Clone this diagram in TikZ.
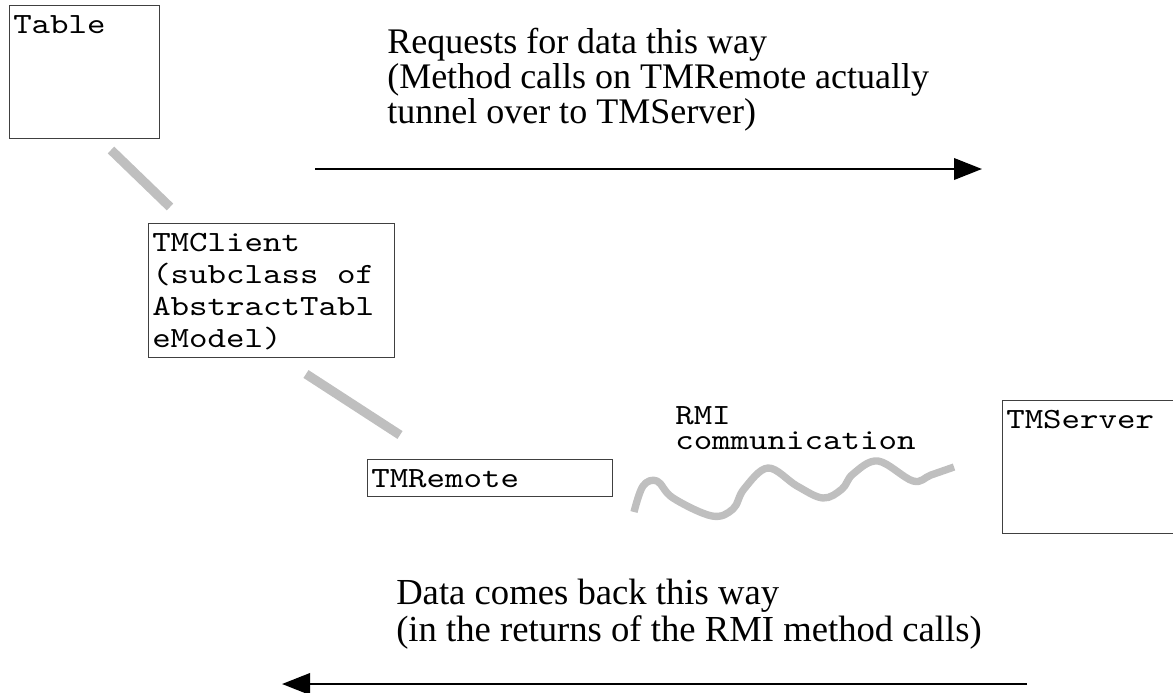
\documentclass[tikz,border=0pt]{standalone}
\usepackage{fontspec}
\setmainfont{Liberation Serif}
\newfontfamily\monofam{lmmono10-regular}[Extension=.otf,FakeStretch=1.2]
\usetikzlibrary{arrows.meta}

\newcommand{\px}{0.75pt}

\tikzset{
  box/.style={draw=black!75,line width=1pt,inner sep=0pt,anchor=north west},
  boxtext/.style={font=\monofam\fontsize{22}{24}\selectfont,align=left,anchor=north west,inner xsep=3pt,inner ysep=7.5pt},
  link/.style={draw=black!25,line width=7pt},
  wave/.style={draw=black!25,line width=5.5pt,line join=round},
  flow/.style={line width=2pt,-{Triangle[length=21pt,width=16pt]}},
  note/.style={font=\fontsize{27}{26.25}\selectfont,align=left,anchor=north west,inner sep=0pt}
}

\begin{document}
\begin{tikzpicture}[x=0.75pt,y=-0.75pt]
\useasboundingbox (0,0) rectangle (1173,692);

% the boxes
\node[box,minimum width=150*\px,minimum height=133*\px] (table) at (9,5) {};
\node[boxtext] (tabletext) at (table.north west) {Table};
\node[box,minimum width=246*\px,minimum height=134*\px] (client) at (148,223) {};
\node[boxtext] (clienttext) at (client.north west) {TMClient\\(subclass of\\AbstractTabl\\eModel)};
\node[box,minimum width=245*\px,minimum height=37*\px] (remote) at (367,459) {};
\node[boxtext] (remotetext) at (remote.north west) {TMRemote};
\node[box,minimum width=180*\px,minimum height=133*\px] (server) at (1002,400) {};
\node[boxtext] (servertext) at (server.north west) {TMServer};

% grey links between the boxes
\coordinate (l1a) at (111,150);
\coordinate (l1b) at (170,207);
\coordinate (l2a) at (306,374);
\coordinate (l2b) at (400,435);
\draw[link] (l1a) -- (l1b);
\draw[link] (l2a) -- (l2b);

% rmi
\node[boxtext,font=\monofam\fontsize{22}{19}\selectfont,inner sep=0pt] (rmi) at (675,406) {RMI\\communication};
\draw[wave] plot[smooth,tension=0.6] coordinates {(634,512) (643,486) (657,481) (673,498) (712,516) (733,509) (744,489) (768,468) (797,486) (823,498) (842,489) (853,474) (878,461) (913,481) (931,475) (954,467)};

% requests
\node[note] (reqnote) at (387,28) {Requests for data this way\\(Method calls on TMRemote actually\\tunnel over to TMServer)};
\coordinate (reqstart) at (315,169);
\coordinate (reqend) at (982,169);
\draw[flow] (reqstart) -- (reqend);

% data back
\node[note,font=\fontsize{27.5}{27.5}\selectfont] (datanote) at (396,579) {Data comes back this way\\(in the returns of the RMI method calls)};
\coordinate (datastart) at (1027,684);
\coordinate (dataend) at (282,684);
\draw[flow] (datastart) -- (dataend);
\end{tikzpicture}
\end{document}
